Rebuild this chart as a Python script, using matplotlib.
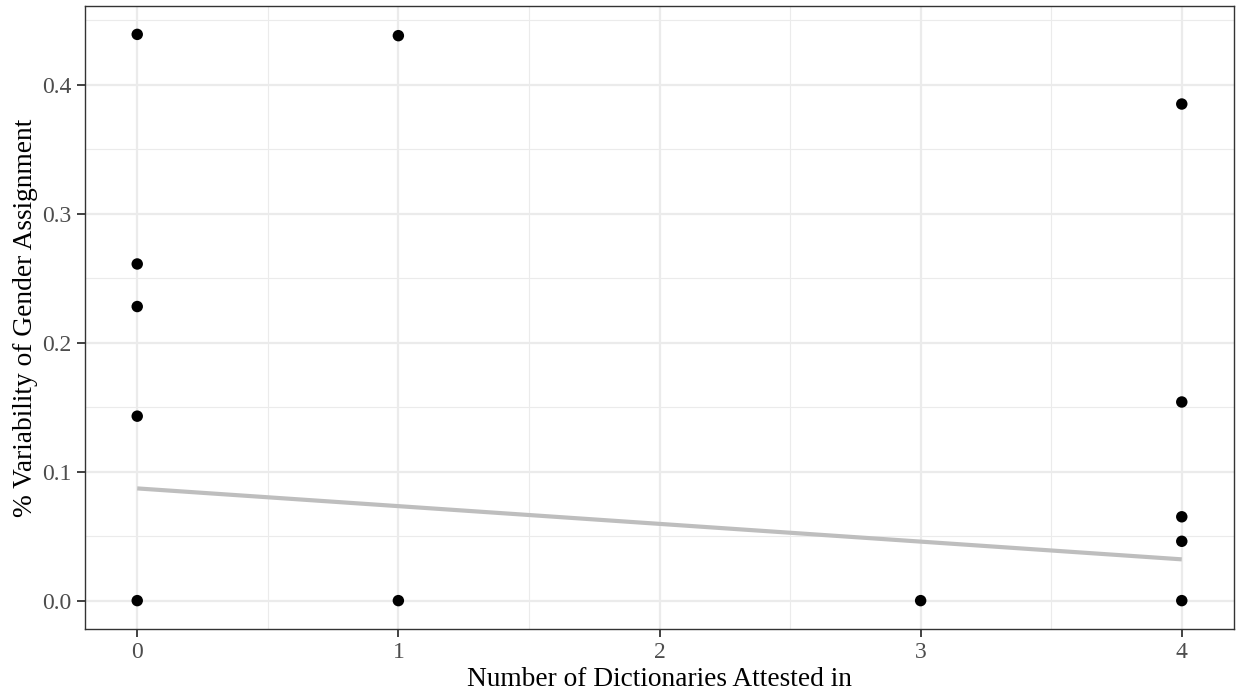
import matplotlib
matplotlib.use("Agg")
import matplotlib.pyplot as plt
import numpy as np
from matplotlib.ticker import MultipleLocator

# Data
dict_count = [0, 0, 0, 0, 0, 1, 1, 3, 4, 4, 4, 4, 4]
variability = [0.439, 0.261, 0.228, 0.143, 0.0, 0.438, 0.0, 0.0,
               0.385, 0.154, 0.065, 0.046, 0.0]
# Linear fit line (as drawn in the chart)
fit_intercept = 0.087
fit_slope = -0.01375
x_ticks = [0, 1, 2, 3, 4]
y_ticks = [0.0, 0.1, 0.2, 0.3, 0.4]
y_tick_labels = ["0.0", "0.1", "0.2", "0.3", "0.4"]

plt.rcParams['font.family'] = ['Liberation Serif', 'DejaVu Serif']

fig = plt.figure(figsize=(12.38, 6.93), dpi=100)
ax = fig.add_axes([85/1238, 1 - 629/693, (1234-85)/1238, (629-6)/693])

ax.set_facecolor("white")
ax.set_xlim(-0.2, 4.2)
ax.set_ylim(-0.022, 0.461)

ax.set_xticks(x_ticks)
ax.set_yticks(y_ticks)
ax.set_yticklabels(y_tick_labels)
ax.xaxis.set_minor_locator(MultipleLocator(0.5))
ax.yaxis.set_minor_locator(MultipleLocator(0.05))

ax.grid(which="major", color="#EBEBEB", linewidth=1.6, zorder=0)
ax.grid(which="minor", color="#EBEBEB", linewidth=0.8, zorder=0)
ax.set_axisbelow(True)

for s in ax.spines.values():
    s.set_color("#333333")
    s.set_linewidth(1.0)

ax.tick_params(which="major", length=5.5, width=1.3, color="#333333",
               labelcolor="#4D4D4D", labelsize=17, pad=4)
ax.tick_params(which="minor", length=0)

xfit = np.array([min(dict_count), max(dict_count)])
ax.plot(xfit, fit_intercept + fit_slope * xfit, color="#BEBEBE",
        linewidth=3.0, zorder=2, solid_capstyle="butt")

ax.scatter(dict_count, variability, s=68, color="black", zorder=3,
           edgecolors="none")

ax.set_xlabel("Number of Dictionaries Attested in", fontsize=19.7, color="black", labelpad=3)
ax.set_ylabel("% Variability of Gender Assignment", fontsize=19.7, color="black", labelpad=3)

fig.savefig("out.png", dpi=100)
